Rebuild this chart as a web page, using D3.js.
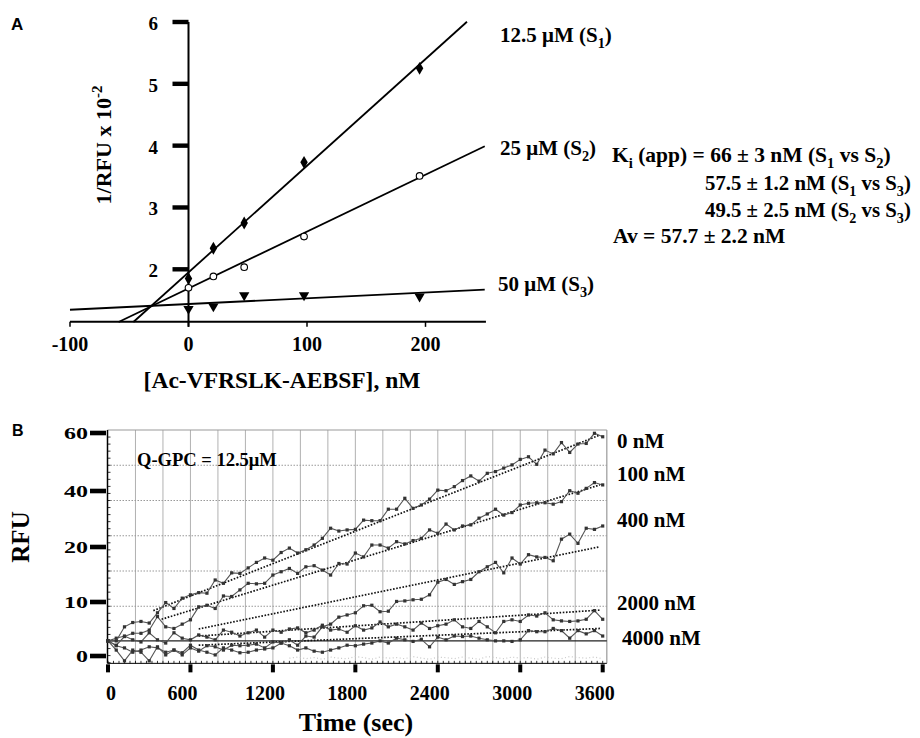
<!DOCTYPE html>
<html>
<head>
<meta charset="utf-8">
<script src="https://cdn.jsdelivr.net/npm/d3@7"></script>
<style>
  body { margin: 0; background: #fff; }
  svg text { font-family: "Liberation Serif", "Times New Roman", serif; font-weight: bold; fill: #000; }
  svg text.panel { font-family: "Liberation Sans", Arial, sans-serif; }
</style>
</head>
<body>
<svg id="fig" width="920" height="738"></svg>
<script>
// ---- panel A data (Dixon plot)
var concA = [0, 21, 47, 97.5, 195];
var s1A = [1.85, 2.34, 2.75, 3.73, 5.25];
var s2A = [1.70, 1.885, 2.035, 2.53, 3.51];
var s3A = [1.36, 1.40, 1.58, 1.58, 1.56];
// fitted lines: slope, intercept, from, to (nM)
var fitsA = [[0.01725, 1.95, -46.5, 235], [0.0092, 1.69, -59, 250], [0.000925, 1.4385, -100, 250]];
var namesA = ["12.5 μM", "25 μM", "50 μM"];
var ticksYA = [2, 3, 4, 5, 6];
var ticksXA = [-100, 0, 100, 200];

// ---- panel B data (progress curves, RFU every 60 sec)
var timesB = d3.range(0, 3660, 60);
var s0B = [2.8,2.8,5.4,6.2,6.4,6.1,8.0,9.9,8.8,10.7,11.3,11.7,11.6,14.0,13.4,15.3,15.2,16.2,17.2,18.0,
  17.6,19.0,19.8,18.9,19.5,20.7,23.1,26.7,25.7,26.1,26.3,29.6,29.4,29.4,33.5,33.5,37.4,33.8,35.0,37.1,
  40.3,40.1,41.5,43.6,45.2,43.4,46.1,46.7,47.9,49.0,50.9,51.8,49.2,54.1,52.8,56.7,53.3,56.2,56.4,59.9,58.7];
var s100B = [2.8,2.0,3.6,4.2,4.2,4.8,7.3,5.4,5.1,5.9,6.7,9.1,9.4,8.8,11.1,11.0,12.2,13.4,13.3,13.4,
  14.9,15.5,16.1,15.2,16.4,16.6,15.8,14.9,17.0,16.9,18.9,18.2,20.7,20.7,19.8,21.9,21.1,22.3,23.1,26.1,
  24.9,28.2,26.1,27.5,27.9,30.3,31.8,33.5,31.4,32.3,35.0,35.6,35.8,35.8,35.3,36.2,40.1,39.2,40.9,42.9,42.1];
var s400B = [2.8,1.9,1.5,0.7,1.1,1.7,1.5,0.7,1.1,0.2,1.5,0.9,1.9,1.7,1.1,2.0,1.9,2.0,2.2,1.5,
  2.6,2.4,3.0,2.0,3.7,3.5,5.4,5.9,7.2,7.6,8.0,9.3,9.4,8.2,8.3,10.1,10.2,10.4,10.5,11.3,
  13.6,14.1,13.2,13.7,14.1,15.5,16.4,17.2,15.3,18.0,16.9,18.6,18.2,18.1,17.5,22.8,24.6,21.3,26.7,26.3,27.5];
var s2000B = [2.8,3.3,3.7,3.0,2.6,4.3,3.0,2.4,4.3,3.3,3.0,3.9,3.5,3.0,4.8,4.4,3.7,4.3,4.8,3.5,
  4.8,4.4,5.0,5.2,4.3,4.8,5.7,4.8,5.0,4.4,5.6,4.8,5.2,6.3,5.4,5.9,5.4,4.8,6.1,5.1,
  5.6,5.9,6.7,5.4,5.1,6.4,5.4,4.3,6.4,6.7,6.4,7.6,7.4,8.0,6.7,6.5,6.4,6.5,6.8,8.4,6.8];
var s4000B = [2.8,1.1,-0.9,1.1,0.7,-0.9,1.7,0.2,1.1,0.6,2.0,1.1,0.7,0.2,1.5,1.1,0.6,0.7,1.1,1.3,
  1.5,2.4,1.9,1.1,1.5,0.9,0.7,1.1,1.5,2.0,1.9,2.2,2.4,2.8,2.4,3.3,3.0,2.7,3.1,1.7,
  3.5,3.0,3.7,3.6,3.7,3.3,3.0,2.8,2.8,2.7,3.0,4.7,4.5,4.5,5.1,4.7,3.3,4.7,4.1,4.7,3.7];
// faint blank trace from 1320 sec on
var blankB = [-0.4,-0.2,-0.5,-0.3,-0.6,-0.2,-0.4,-0.5,-0.1,-0.3,-0.6,-0.2,-0.4,-0.3,-0.5,-0.1,-0.4,-0.6,-0.2,-0.3,
  -0.5,-0.2,-0.4,-0.6,-0.1,-0.3,-0.5,-0.2,-0.4,-0.3,-0.6,-0.2,-0.4,-0.5,-0.1,-0.3,-0.4,-0.2,-0.5];
// linear fits: [t0, rfu0, t1, rfu1]
var fitsB = [[330, 8.4, 3580, 59.3], [390, 6.8, 3580, 42.1], [660, 5.0, 3580, 20.1], [660, 3.7, 3580, 8.5], [660, 2.0, 3580, 5.1]];
var namesB = ["0 nM", "100 nM", "400 nM", "2000 nM", "4000 nM"];
var ticksYB = [0, 10, 20, 40, 60];
var ticksXB = [0, 600, 1200, 1800, 2400, 3000, 3600];
var startLevelB = 2.8;

var svg = d3.select("#fig");

// text with sub/superscripts: parts = [[text, "sub"|"sup"|null], ...]
function richText(g, x, y, parts, size, anchor) {
  var t = g.append("text").attr("x", x).attr("y", y)
    .style("font-size", size + "px").attr("text-anchor", anchor || "start");
  var shift = 0;
  parts.forEach(function(p) {
    var s = p[1] === "sub" ? 0.28 : p[1] === "sup" ? -0.42 : 0;
    t.append("tspan").attr("dy", (s - shift) * size)
      .style("font-size", p[1] ? (size * 0.68) + "px" : null).text(p[0]);
    shift = s;
  });
  return t;
}

// ================= panel A =================
var xA = d3.scaleLinear().domain([-100, 200]).range([70, 425.5]);
var yA = d3.scaleLinear().domain([2, 6]).range([269.3, 22]);
var floorA = 1.15, endA = 251;
var gA = svg.append("g");

gA.append("text").attr("class", "panel").attr("x", 11).attr("y", 30).style("font-size", "17px").text("A");

gA.append("line").attr("x1", xA(-100)).attr("x2", xA(endA)).attr("y1", yA(floorA)).attr("y2", yA(floorA))
  .attr("stroke", "#000").attr("stroke-width", 2);
gA.append("line").attr("x1", xA(0)).attr("x2", xA(0)).attr("y1", yA(6)).attr("y2", yA(floorA) + 5)
  .attr("stroke", "#000").attr("stroke-width", 2);

ticksYA.forEach(function(v) {
  gA.append("rect").attr("x", xA(0) - 16).attr("y", yA(v) - 2.2).attr("width", 16).attr("height", 4.4).attr("fill", "#000");
  gA.append("text").attr("x", 158).attr("y", yA(v) + 8).attr("text-anchor", "end").style("font-size", "19px").text(v);
});
ticksXA.forEach(function(v) {
  gA.append("line").attr("x1", xA(v)).attr("x2", xA(v)).attr("y1", yA(floorA)).attr("y2", yA(floorA) + 5)
    .attr("stroke", "#000").attr("stroke-width", 1.5);
  gA.append("text").attr("x", xA(v)).attr("y", 351).attr("text-anchor", "middle").style("font-size", "20px").text(v);
});

gA.append("text").attr("x", 282).attr("y", 388).attr("text-anchor", "middle").style("font-size", "23.5px")
  .text("[Ac-VFRSLK-AEBSF], nM");
richText(gA, 0, 0, [["1/RFU x 10", null], ["-2", "sup"]], 22, "middle")
  .attr("transform", "translate(111,145) rotate(-90)");

fitsA.forEach(function(f) {
  gA.append("line")
    .attr("x1", xA(f[2])).attr("y1", yA(f[0] * f[2] + f[1]))
    .attr("x2", xA(f[3])).attr("y2", yA(f[0] * f[3] + f[1]))
    .attr("stroke", "#000").attr("stroke-width", 1.8);
});

var diamond = d3.symbol().type(d3.symbolDiamond).size(48);
var tri = d3.symbol().type(d3.symbolTriangle).size(46);
concA.forEach(function(c, i) {
  gA.append("path").attr("d", diamond).attr("transform", "translate(" + xA(c) + "," + yA(s1A[i]) + ")").attr("fill", "#000");
  gA.append("circle").attr("cx", xA(c)).attr("cy", yA(s2A[i])).attr("r", 3.3)
    .attr("fill", "#fff").attr("stroke", "#000").attr("stroke-width", 1.1);
  gA.append("path").attr("d", tri).attr("transform", "translate(" + xA(c) + "," + yA(s3A[i]) + ") rotate(180)").attr("fill", "#000");
});

var labelPosA = [[500, 42], [500, 155], [498, 291]];
namesA.forEach(function(n, i) {
  richText(gA, labelPosA[i][0], labelPosA[i][1], [[n + " (S", null], [String(i + 1), "sub"], [")", null]], 21);
});

richText(gA, 612, 162, [["K", null], ["i", "sub"], [" (app) = 66 ± 3 nM (S", null], ["1", "sub"], [" vs S", null], ["2", "sub"], [")", null]], 21.5);
richText(gA, 705, 190, [["57.5 ± 1.2 nM (S", null], ["1", "sub"], [" vs S", null], ["3", "sub"], [")", null]], 20.8);
richText(gA, 705, 217, [["49.5 ± 2.5 nM (S", null], ["2", "sub"], [" vs S", null], ["3", "sub"], [")", null]], 20.8);
gA.append("text").attr("x", 613).attr("y", 243).style("font-size", "21.5px").text("Av = 57.7 ± 2.2 nM");

// ================= panel B =================
var xB = d3.scaleLinear().domain([0, 3600]).range([108, 602.7]);
var yB = d3.scaleLinear().domain([0, 10, 20, 40, 60]).range([656, 602, 547, 491, 433]);
var gridB = d3.scaleLinear().domain([0, 6]).range([641.5, 430]);
var leftB = 107.5, rightB = xB(3630), topB = gridB(6), bottomB = gridB(-0.62);
var gB = svg.append("g");

gB.append("text").attr("class", "panel").attr("x", 12).attr("y", 436).style("font-size", "16px").text("B");

d3.range(200, 3600, 200).forEach(function(t) {
  gB.append("line").attr("x1", xB(t)).attr("x2", xB(t)).attr("y1", topB).attr("y2", bottomB)
    .attr("stroke", "#a8a8a8").attr("stroke-width", 0.9);
});
[1, 2, 3, 4, 5].forEach(function(k) {
  gB.append("line").attr("x1", leftB).attr("x2", rightB).attr("y1", gridB(k)).attr("y2", gridB(k))
    .attr("stroke", "#999").attr("stroke-width", 1).attr("stroke-dasharray", "1.5,1.5");
});
gB.append("line").attr("x1", leftB).attr("x2", rightB).attr("y1", topB).attr("y2", topB).attr("stroke", "#999").attr("stroke-width", 1.2);
gB.append("line").attr("x1", rightB).attr("x2", rightB).attr("y1", topB).attr("y2", bottomB).attr("stroke", "#999").attr("stroke-width", 1.2);
gB.append("line").attr("x1", leftB).attr("x2", rightB).attr("y1", yB(startLevelB)).attr("y2", yB(startLevelB))
  .attr("stroke", "#222").attr("stroke-width", 1.2);

// axes
gB.append("line").attr("x1", leftB).attr("x2", leftB).attr("y1", topB).attr("y2", bottomB).attr("stroke", "#000").attr("stroke-width", 1.5);
gB.append("line").attr("x1", leftB).attr("x2", rightB).attr("y1", bottomB).attr("y2", bottomB).attr("stroke", "#000").attr("stroke-width", 1);
d3.range(-0.6, 6, 0.2).forEach(function(k) {
  gB.append("line").attr("x1", leftB).attr("x2", leftB + 3).attr("y1", gridB(k)).attr("y2", gridB(k)).attr("stroke", "#000").attr("stroke-width", 0.8);
});
d3.range(0, 3620, 40).forEach(function(t) {
  gB.append("line").attr("x1", xB(t)).attr("x2", xB(t)).attr("y1", bottomB).attr("y2", bottomB - 2.5).attr("stroke", "#000").attr("stroke-width", 0.8);
});
ticksYB.forEach(function(v) {
  gB.append("rect").attr("x", 90).attr("y", yB(v) - 2.3).attr("width", 16).attr("height", 4.6).attr("fill", "#000");
  gB.append("text").attr("transform", "translate(88," + (yB(v) + 6) + ") scale(1,0.72)")
    .attr("text-anchor", "end").style("font-size", "24px").text(v);
});
ticksXB.forEach(function(t) {
  gB.append("rect").attr("x", xB(t) - 2).attr("y", bottomB + 1).attr("width", 4).attr("height", 8).attr("fill", "#000");
  gB.append("text").attr("x", xB(t) + (t === 0 ? 3 : -8)).attr("y", 700).attr("text-anchor", "middle").style("font-size", "20px").text(t);
});

gB.append("text").attr("transform", "translate(29,537) rotate(-90)").attr("text-anchor", "middle")
  .style("font-size", "25px").text("RFU");
gB.append("text").attr("x", 356).attr("y", 731).attr("text-anchor", "middle").style("font-size", "26px").text("Time (sec)");
gB.append("text").attr("x", 137).attr("y", 466).style("font-size", "18.5px").text("Q-GPC = 12.5μM");

// blank trace
var blankLine = d3.line().x(function(d, i) { return xB(timesB[i + 22]); }).y(function(d) { return yB(d); });
gB.append("path").attr("d", blankLine(blankB)).attr("fill", "none").attr("stroke", "#c8c8c8")
  .attr("stroke-width", 1.2).attr("stroke-dasharray", "1,2.5");

// fits
fitsB.forEach(function(f) {
  gB.append("line").attr("x1", xB(f[0])).attr("y1", yB(f[1])).attr("x2", xB(f[2])).attr("y2", yB(f[3]))
    .attr("stroke", "#111").attr("stroke-width", 1.7).attr("stroke-dasharray", "1.6,1.6");
});

// progress curves
var lineB = d3.line().x(function(d, i) { return xB(timesB[i]); }).y(function(d) { return yB(d); });
[s4000B, s2000B, s400B, s100B, s0B].forEach(function(s) {
  gB.append("path").attr("d", lineB(s)).attr("fill", "none").attr("stroke", "#555").attr("stroke-width", 1.1);
  gB.selectAll(null).data(s).enter().append("rect")
    .attr("x", function(d, i) { return xB(timesB[i]) - 1.6; })
    .attr("y", function(d) { return yB(d) - 1.6; })
    .attr("width", 3.2).attr("height", 3.2).attr("fill", "#333");
});

var labelPosB = [[617, 448], [617, 481], [617, 527], [617, 610], [622, 645]];
namesB.forEach(function(n, i) {
  gB.append("text").attr("x", labelPosB[i][0]).attr("y", labelPosB[i][1]).style("font-size", "21px").text(n);
});
</script>
</body>
</html>
